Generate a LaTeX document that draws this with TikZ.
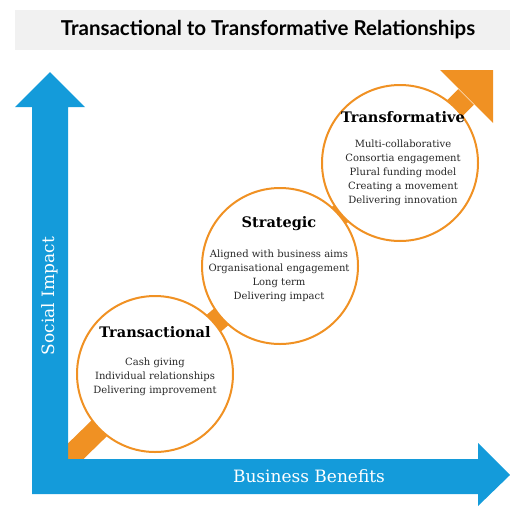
\documentclass[tikz,border=0pt]{standalone}
\usepackage{fontspec}
\usetikzlibrary{positioning}
\setmainfont{DejaVu Serif}
\newfontfamily\titlefont{Lato}
\definecolor{axisblue}{RGB}{20,155,218}
\definecolor{bandorange}{RGB}{240,145,35}
\definecolor{titlegrey}{RGB}{241,241,241}
\definecolor{bodygrey}{RGB}{40,40,40}
\tikzset{
    stage/.style={circle, draw=bandorange, line width=2pt, fill=white,
        minimum size=156pt, inner sep=0pt},
    stagehead/.style={font=\fontsize{14.5}{15}\selectfont\bfseries, text=black},
    stagebody/.style={font=\fontsize{10}{14}\selectfont, text=bodygrey, align=center},
    axislabel/.style={font=\fontsize{17}{18}\selectfont, text=white},
}
\begin{document}
\begin{tikzpicture}[x=1pt,y=-1pt]
    \useasboundingbox (0,0) rectangle (510,506);
    %% title band
    \fill[titlegrey] (15,10) rectangle (510,50);
    \node[font=\titlefont\fontsize{20.5}{24}\selectfont\bfseries] (title) at (268,30)
        {Transactional to Transformative Relationships};
    %% stage centres (by eye)
    \coordinate (start) at (40,486);
    \coordinate (c1) at (155,374);
    \coordinate (c2) at (280,266);
    \coordinate (c3) at (400,163);
    \coordinate (tip) at (466,97);
    %% orange band, behind the circles
    \draw[bandorange, line width=22pt] (start) -- (c1) -- (c2) -- (c3) -- (tip);
    \fill[bandorange] (440,70) -- (493,70) -- (493,123) -- cycle;
    %% stages
    \node[stage] (trans) at (c1) {};
    \node[stage] (strat) at (c2) {};
    \node[stage] (transf) at (c3) {};
    \node[stagehead] (transhead) at (155,332) {Transactional};
    \node[stagebody, below=13pt of transhead] (transbody)
        {Cash giving\\Individual relationships\\Delivering improvement};
    \node[stagehead] (strathead) at (279,224) {Strategic};
    \node[stagebody, below=12pt of strathead] (stratbody)
        {Aligned with business aims\\Organisational engagement\\Long term\\Delivering impact};
    \node[stagehead] (transfhead) at (403,117) {Transformative};
    \node[stagebody, below=10pt of transfhead] (transfbody)
        {Multi-collaborative\\Consortia engagement\\Plural funding model\\Creating a movement\\Delivering innovation};
    %% axes
    \fill[axisblue] (32,494) -- (32,107) -- (15,107) -- (50,72) -- (85,107) -- (68,107)
        -- (68,459) -- (478,459) -- (478,443) -- (510,475) -- (478,506) -- (478,494) -- cycle;
    \node[axislabel, rotate=90] (social) at (50,296) {Social Impact};
    \node[axislabel] (business) at (309,476) {Business Benefits};
\end{tikzpicture}
\end{document}
